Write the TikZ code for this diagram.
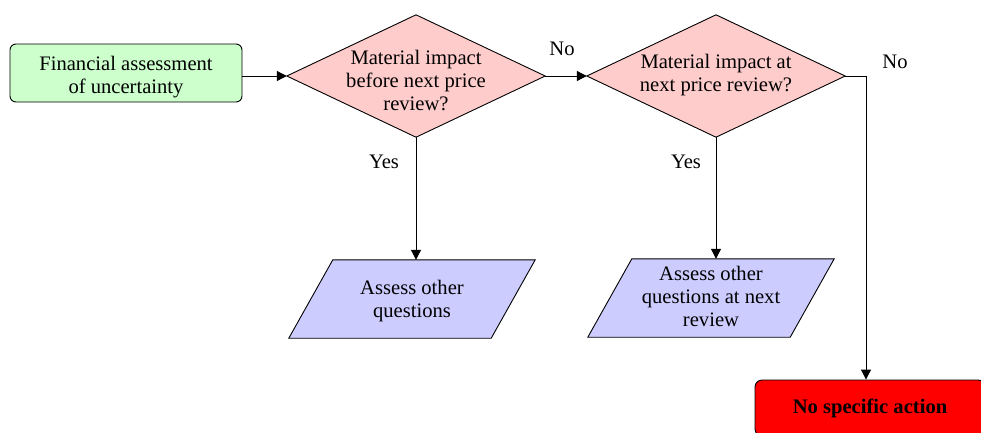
\documentclass[tikz,border=0pt]{standalone}
\usepackage{fontspec}
\setmainfont{Liberation Serif}
\usetikzlibrary{arrows.meta,backgrounds}

\definecolor{startgreen}{HTML}{CCFFCC}
\definecolor{decisionpink}{HTML}{FFCCCC}
\definecolor{iolavender}{HTML}{CCCCFF}
\definecolor{stopred}{HTML}{FF0000}

\begin{document}
\begin{tikzpicture}[x=1pt,y=-1pt,
  every node/.style={font=\fontsize{20.6}{23}\selectfont},
  conn/.style={draw=black, line width=1pt, -{Triangle[length=10pt,width=10pt]}},
  plainline/.style={draw=black, line width=1pt},
  startbox/.style={draw=black, line width=0.9pt, rounded corners=6pt, fill=startgreen,
    minimum width=232pt, minimum height=58pt, inner sep=0pt},
  decision/.style={rectangle, minimum width=258pt, minimum height=122pt, inner sep=0pt},
  iobox/.style={rectangle, minimum width=202pt, minimum height=78pt, inner sep=0pt},
  shapeline/.style={draw=black, line width=0.9pt},
  stopbox/.style={draw=black, line width=0.9pt, rounded corners=7pt, fill=stopred,
    minimum width=230pt, minimum height=56pt, inner sep=0pt},
  qtext/.style={align=center, inner sep=0pt},
  boldtext/.style={inner sep=0pt, font=\fontsize{20.6}{23}\selectfont\bfseries},
  lbl/.style={inner sep=0pt}
]
\useasboundingbox (0,0) rectangle (981,432);

% start node
\node[startbox] (start) at (126,73) {};
\node[qtext] (starttext) at (126,77) {Financial assessment\\of uncertainty};

% decisions (outline frames; the diamonds are drawn behind)
\node[decision] (d1) at (416,76) {};
\node[qtext] (d1text) at (416,80) {Material impact\\before next price\\review?};
\node[decision] (d2) at (716,76) {};
\node[qtext] (d2text) at (716,75) {Material impact at\\next price review?};

% input/output boxes (parallelograms drawn behind)
\node[iobox] (p1) at (412,299) {};
\node[qtext] (p1text) at (412,301) {Assess other\\questions};
\node[iobox] (p2) at (711,298) {};
\node[qtext] (p2text) at (711,296) {Assess other\\questions at next\\review};

% terminal
\node[stopbox] (stop) at (870,408) {};
\node[boldtext] (stoptext) at (870,408) {No specific action};

\begin{pgfonlayer}{background}
  \path[shapeline, fill=decisionpink] (d1.west) -- (d1.north) -- (d1.east) -- (d1.south) -- cycle;
  \path[shapeline, fill=decisionpink] (d2.west) -- (d2.north) -- (d2.east) -- (d2.south) -- cycle;
  \path[shapeline, fill=iolavender]
    ([xshift=22pt]p1.north west) -- ([xshift=22pt]p1.north east) --
    ([xshift=-22pt]p1.south east) -- ([xshift=-22pt]p1.south west) -- cycle;
  \path[shapeline, fill=iolavender]
    ([xshift=22pt]p2.north west) -- ([xshift=22pt]p2.north east) --
    ([xshift=-22pt]p2.south east) -- ([xshift=-22pt]p2.south west) -- cycle;
\end{pgfonlayer}

% connectors
\draw[conn] (start.east |- d1.west) -- (d1.west);
\draw[conn] (d1.east) -- (d2.west);
\draw[conn] (d1.south) -- (d1.south |- p1.north);
\draw[conn] (d2.south) -- (d2.south |- p2.north);
\coordinate (turn) at (866,76);
\draw[plainline] (d2.east) -- (turn);
\draw[conn] (turn) -- (turn |- stop.north);

% branch labels
\node[lbl] (no1) at (562,49) {No};
\node[lbl] (no2) at (895,62) {No};
\node[lbl] (yes1) at (384,162) {Yes};
\node[lbl] (yes2) at (686,162) {Yes};
\end{tikzpicture}
\end{document}
